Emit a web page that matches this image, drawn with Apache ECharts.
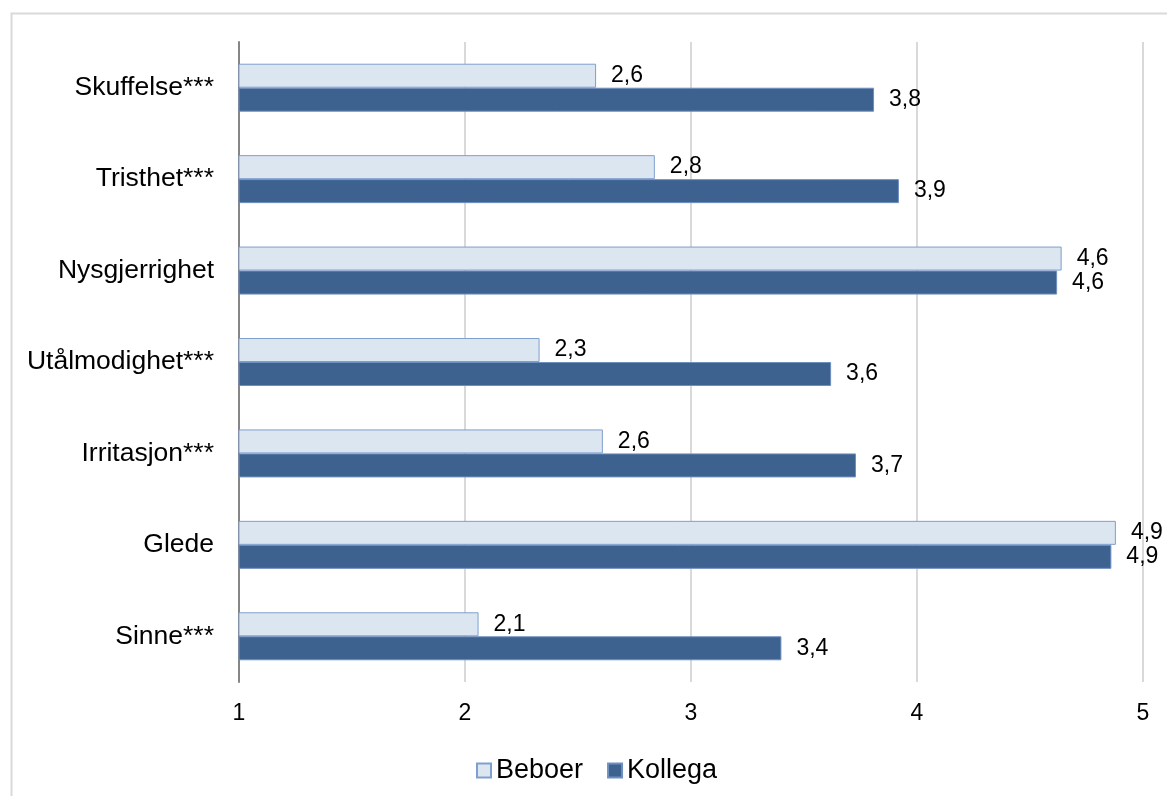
<!DOCTYPE html>
<html>
<head>
<meta charset="utf-8">
<script src="https://cdn.jsdelivr.net/npm/echarts@6/dist/echarts.min.js"></script>
<style>
    html, body {margin: 0; padding: 0; background: #fff;}
    #chart {width: 1167px; height: 796px;}
</style>
</head>
<body>
<div id="chart"></div>
<script>
    // kategorier, ovenfra og ned
    let kategorier = ['Skuffelse***', 'Tristhet***', 'Nysgjerrighet', 'Utålmodighet***', 'Irritasjon***', 'Glede', 'Sinne***'];
    let beboer = [2.58, 2.84, 4.64, 2.33, 2.61, 4.88, 2.06];
    let kollega = [3.81, 3.92, 4.62, 3.62, 3.73, 4.86, 3.40];
    let ticks = [1, 2, 3, 4, 5];

    let fnt = 'Liberation Sans, Arial, sans-serif';
    let fmt = function (p) {
        return p.value.toFixed(1).replace('.', ',');
    };

    let c1 = echarts.init(document.getElementById('chart'));
    c1.setOption({
        animation: false,
        textStyle: {fontFamily: fnt},
        graphic: [{
            type: 'rect', left: 9, top: 11,
            shape: {width: 1300, height: 900},
            style: {fill: 'none', stroke: '#d9d9d9', lineWidth: 2}
        }],
        grid: {left: 239, right: 24, top: 42, bottom: 114},
        legend: {
            left: 471, top: 752, icon: 'rect', itemWidth: 14, itemHeight: 14, itemGap: 24,
            textStyle: {fontSize: 27, color: '#000', fontFamily: fnt}
        },
        xAxis: {
            type: 'value', min: ticks[0], max: ticks[ticks.length - 1], interval: 1,
            axisLine: {show: false}, axisTick: {show: false},
            splitLine: {lineStyle: {color: '#d9d9d9', width: 2}},
            axisLabel: {fontSize: 23, color: '#000', margin: 20, fontFamily: fnt}
        },
        yAxis: {
            type: 'category', data: kategorier, inverse: true,
            axisLine: {lineStyle: {color: '#868686', width: 2}},
            axisTick: {show: false},
            axisLabel: {fontSize: 26.5, color: '#000', margin: 25, fontFamily: fnt}
        },
        series: [
            {
                name: 'Beboer', type: 'bar', data: beboer, barWidth: 24, barGap: '0%',
                itemStyle: {color: '#dce6f1', borderColor: '#7f9fcf', borderWidth: 1},
                label: {show: true, position: 'right', distance: 15, fontSize: 23, color: '#000', formatter: fmt}
            },
            {
                name: 'Kollega', type: 'bar', data: kollega, barWidth: 24, barGap: '0%',
                itemStyle: {color: '#3e6290', borderColor: '#6f8fbf', borderWidth: 1},
                label: {show: true, position: 'right', distance: 15, fontSize: 23, color: '#000', formatter: fmt}
            }
        ]
    });
</script>
</body>
</html>
